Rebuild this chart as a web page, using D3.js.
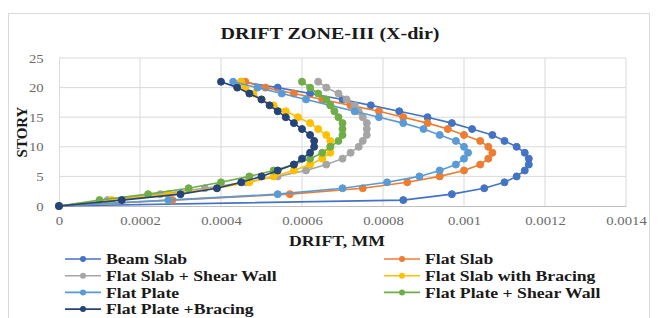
<!DOCTYPE html>
<html>
<head>
<meta charset="utf-8">
<script src="https://cdn.jsdelivr.net/npm/d3@7"></script>
<style>
  body { margin: 0; background: #fff; }
  svg { display: block; }
</style>
</head>
<body>
<div id="chart"></div>
<script>
// stories 0..21
const stories = d3.range(0, 22)

const seriesNames = [
  'Beam Slab', 'Flat Slab', 'Flat Slab + Shear Wall', 'Flat Slab with Bracing',
  'Flat Plate', 'Flat Plate + Shear Wall', 'Flat Plate +Bracing'
]

// drift values, story 0 -> 21
const beamSlab = [0, 0.00085, 0.00097, 0.00105, 0.0011, 0.00113, 0.00115, 0.00116, 0.00116, 0.00115,
  0.00113, 0.0011, 0.00107, 0.00102, 0.00097, 0.00091, 0.00084, 0.00077, 0.0007, 0.00062, 0.00054, 0.00045]
const flatSlab = [0, 0.00028, 0.00057, 0.00075, 0.00086, 0.00094, 0.001, 0.00104, 0.00106, 0.00107,
  0.00106, 0.00104, 0.001, 0.00096, 0.00091, 0.00085, 0.00079, 0.00072, 0.00065, 0.00058, 0.00051, 0.00046]
const flatSlabShearWall = [0, 0.00012, 0.00025, 0.00036, 0.00046, 0.00054, 0.00061, 0.00066, 0.0007, 0.00072,
  0.00074, 0.00075, 0.00076, 0.00076, 0.00076, 0.00075, 0.00074, 0.00073, 0.00071, 0.00069, 0.00066, 0.00064]
const flatSlabBracing = [0, 0.00013, 0.00027, 0.00039, 0.00047, 0.00053, 0.00058, 0.00062, 0.00065, 0.00067,
  0.00067, 0.00067, 0.00066, 0.00064, 0.00062, 0.00059, 0.00056, 0.00053, 0.0005, 0.00048, 0.00046, 0.00045]
const flatPlate = [0, 0.00027, 0.00054, 0.0007, 0.00081, 0.00089, 0.00094, 0.00098, 0.001, 0.00101,
  0.001, 0.00098, 0.00094, 0.0009, 0.00085, 0.00079, 0.00073, 0.00067, 0.00061, 0.00055, 0.00049, 0.00043]
const flatPlateShearWall = [0, 0.0001, 0.00022, 0.00032, 0.0004, 0.00047, 0.00053, 0.00058, 0.00062, 0.00065,
  0.00067, 0.00069, 0.0007, 0.0007, 0.0007, 0.00069, 0.00068, 0.00067, 0.00066, 0.00064, 0.00062, 0.0006]
const flatPlateBracing = [0, 0.000155, 0.0003, 0.00039, 0.00045, 0.0005, 0.00054, 0.00058, 0.0006, 0.00062,
  0.00063, 0.00063, 0.00062, 0.0006, 0.00058, 0.00056, 0.00054, 0.00052, 0.0005, 0.00047, 0.00044, 0.0004]

const xTicks = [0, 0.0002, 0.0004, 0.0006, 0.0008, 0.001, 0.0012, 0.0014]
const xTickLabels = ['0', '0.0002', '0.0004', '0.0006', '0.0008', '0.001', '0.0012', '0.0014']
const yTicks = [0, 5, 10, 15, 20, 25]

const colors = ['#4472C4', '#ED7D31', '#A5A5A5', '#FFC000', '#5B9BD5', '#70AD47', '#264478']

const allValues = [beamSlab, flatSlab, flatSlabShearWall, flatSlabBracing, flatPlate, flatPlateShearWall, flatPlateBracing]
const series = seriesNames.map((name, i) => ({
  name,
  color: colors[i],
  points: stories.map((s, j) => ({ story: s, drift: allValues[i][j] }))
}))

const width = 659
const height = 318
const serif = '"Liberation Serif", "Times New Roman", serif'
const stretch = 1.18 // source picture is a bit wider than tall

const svg = d3.select('#chart')
  .append('svg')
  .attr('width', width)
  .attr('height', height)

// outer chart border
svg.append('rect')
  .attr('x', 8.5)
  .attr('y', 13.5)
  .attr('width', 641)
  .attr('height', 310)
  .attr('fill', '#fff')
  .attr('stroke', '#d9d9d9')

const x = d3.scaleLinear().domain([0, 0.0014]).range([59, 626])
const y = d3.scaleLinear().domain([0, 25]).range([206, 58])

// gridlines
svg.append('g')
  .selectAll('line')
  .data(xTicks.slice(1))
  .join('line')
  .attr('x1', d => x(d)).attr('x2', d => x(d))
  .attr('y1', y(0)).attr('y2', y(25))
  .attr('stroke', '#d9d9d9')
  .attr('stroke-width', 1)

svg.append('g')
  .selectAll('line')
  .data(yTicks.slice(1))
  .join('line')
  .attr('x1', x(0)).attr('x2', x(0.0014))
  .attr('y1', d => y(d)).attr('y2', d => y(d))
  .attr('stroke', '#d9d9d9')
  .attr('stroke-width', 1)

// axes
const xAxis = svg.append('g')
  .attr('transform', `translate(0,${y(0)})`)
  .call(d3.axisBottom(x).tickValues(xTicks).tickFormat((d, i) => xTickLabels[i]).tickSize(0).tickPadding(10))
xAxis.select('.domain').attr('stroke', '#bfbfbf')
xAxis.selectAll('text')
  .attr('fill', '#6b6b6b')
  .attr('font-family', serif)
  .attr('font-size', '12.5px')
  .attr('transform', `scale(${stretch},1)`)

const yAxis = svg.append('g')
  .attr('transform', `translate(${x(0)},0)`)
  .call(d3.axisLeft(y).tickValues(yTicks).tickSize(0).tickPadding(13))
yAxis.select('.domain').attr('stroke', '#d9d9d9')
yAxis.selectAll('text')
  .attr('fill', '#6b6b6b')
  .attr('font-family', serif)
  .attr('font-size', '12.5px')
  .attr('transform', `scale(${stretch},1)`)

// lines + markers
const line = d3.line().x(d => x(d.drift)).y(d => y(d.story))

series.forEach(s => {
  const g = svg.append('g')
  g.append('path')
    .datum(s.points)
    .attr('d', line)
    .attr('fill', 'none')
    .attr('stroke', s.color)
    .attr('stroke-width', 1.6)
  g.selectAll('circle')
    .data(s.points)
    .join('circle')
    .attr('cx', d => x(d.drift))
    .attr('cy', d => y(d.story))
    .attr('r', 3.5)
    .attr('fill', s.color)
    .attr('stroke', s.color)
})

// title
svg.append('text')
  .attr('transform', `translate(330,39) scale(${stretch},1)`)
  .attr('text-anchor', 'middle')
  .attr('font-family', serif)
  .attr('font-weight', 'bold')
  .attr('font-size', '17px')
  .attr('fill', '#1a1a1a')
  .text('DRIFT ZONE-III (X-dir)')

// axis titles
svg.append('text')
  .attr('transform', `translate(337,246) scale(${stretch},1)`)
  .attr('text-anchor', 'middle')
  .attr('font-family', serif)
  .attr('font-weight', 'bold')
  .attr('font-size', '15px')
  .attr('fill', '#1a1a1a')
  .text('DRIFT, MM')

svg.append('text')
  .attr('transform', `translate(27,${(y(0) + y(25)) / 2}) rotate(-90)`)
  .attr('text-anchor', 'middle')
  .attr('font-family', serif)
  .attr('font-weight', 'bold')
  .attr('font-size', '15px')
  .attr('fill', '#1a1a1a')
  .text('STORY')

// legend
const legend = svg.append('g')
series.forEach((s, i) => {
  const col = i % 2
  const row = Math.floor(i / 2)
  const lx = col === 0 ? 65 : 384
  const ly = 259 + row * 16.7
  const item = legend.append('g').attr('transform', `translate(${lx},${ly})`)
  item.append('line')
    .attr('x1', 0).attr('x2', 36)
    .attr('stroke', s.color).attr('stroke-width', 1.6)
  item.append('circle')
    .attr('cx', 18).attr('r', 3).attr('fill', s.color)
  item.append('text')
    .attr('transform', `translate(41,0) scale(${stretch},1)`)
    .attr('dy', '0.35em')
    .attr('font-family', serif)
    .attr('font-weight', 'bold')
    .attr('font-size', '15px')
    .attr('fill', '#1a1a1a')
    .text(s.name)
})
</script>
</body>
</html>
